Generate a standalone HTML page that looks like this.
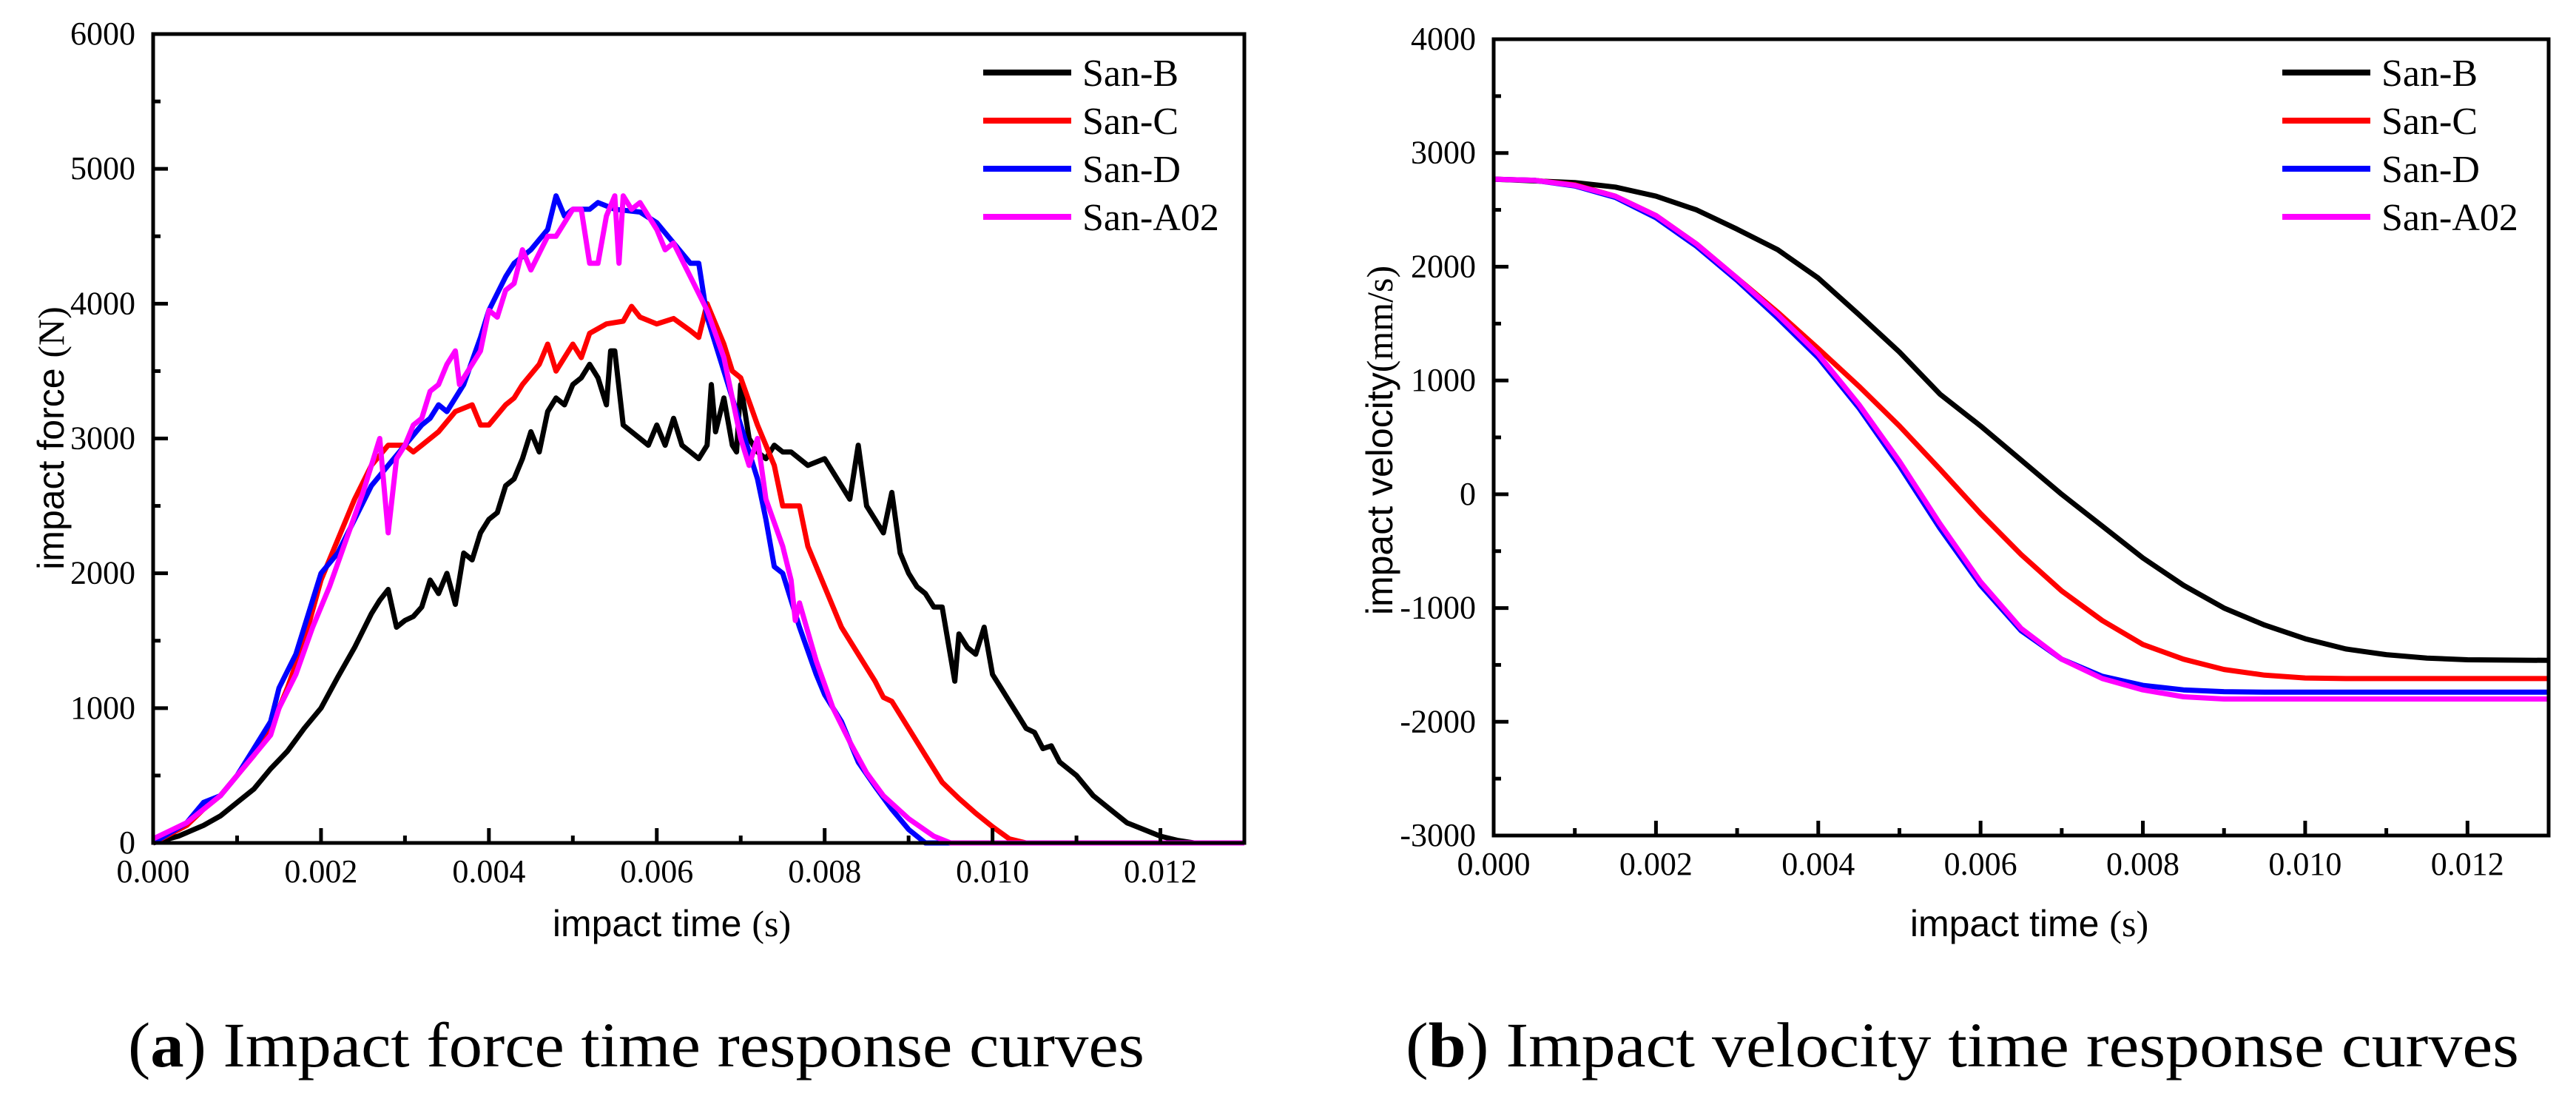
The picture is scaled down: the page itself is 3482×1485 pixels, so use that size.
<!DOCTYPE html>
<html><head><meta charset="utf-8"><style>
html,body{margin:0;padding:0;background:#fff;}
svg{display:block;}
.tick{font-family:"Liberation Serif",serif;font-size:44px;fill:#000;}
.ttl{font-family:"Liberation Sans",sans-serif;font-size:50px;fill:#000;}
.ser{font-family:"Liberation Serif",serif;}
.leg{font-family:"Liberation Serif",serif;font-size:52px;fill:#000;}
.cap{font-family:"Liberation Serif",serif;font-size:86px;fill:#000;}
</style></head><body>
<svg id="fig" width="3482" height="1485" viewBox="0 0 3482 1485" xmlns="http://www.w3.org/2000/svg">
<g id="chartA"></g>
<g id="chartB"></g>
<text class="ttl" x="908" y="1265" text-anchor="middle">impact time <tspan class="ser">(s)</tspan></text>
<text class="ttl" transform="translate(86,592) rotate(-90)" text-anchor="middle">impact force <tspan class="ser">(N)</tspan></text>
<text class="ttl" x="2743" y="1265" text-anchor="middle">impact time <tspan class="ser">(s)</tspan></text>
<text class="ttl" transform="translate(1882,595) rotate(-90)" text-anchor="middle">impact velocity<tspan class="ser">(mm/s)</tspan></text>
<text class="cap" x="173" y="1441" textLength="1374" lengthAdjust="spacingAndGlyphs">(<tspan font-weight="bold">a</tspan>) Impact force time response curves</text>
<text class="cap" x="1900" y="1441" textLength="1505" lengthAdjust="spacingAndGlyphs">(<tspan font-weight="bold">b</tspan>) Impact velocity time response curves</text>
</svg>
<script>
// ---- Chart A data: impact force (N) vs time (s) ----
const seriesNames = ["San-B","San-C","San-D","San-A02"];
const seriesColors = ["#000000","#ff0000","#0000ff","#ff00ff"];
const forceTimeB = [0,0.0003,0.0006,0.0008,0.001,0.0012,0.0014,0.0016,0.0018,0.002,0.0022,0.0024,0.0026,0.0027,0.0028,0.0029,0.003,0.0031,0.0032,0.0033,0.0034,0.0035,0.0036,0.0037,0.0038,0.0039,0.004,0.0041,0.0042,0.0043,0.0044,0.0045,0.0046,0.0047,0.0048,0.0049,0.005,0.0051,0.0052,0.0053,0.0054,0.00545,0.0055,0.0056,0.0058,0.0059,0.006,0.0061,0.0062,0.0063,0.0064,0.0065,0.0066,0.00665,0.0067,0.0068,0.0069,0.00695,0.007,0.0071,0.0072,0.0073,0.0074,0.0075,0.0076,0.0078,0.008,0.0081,0.0082,0.0083,0.0084,0.0085,0.0086,0.0087,0.0088,0.0089,0.009,0.0091,0.0092,0.0093,0.0094,0.00955,0.0096,0.0097,0.0098,0.0099,0.01,0.0101,0.0102,0.0103,0.0104,0.0105,0.0106,0.0107,0.0108,0.011,0.0112,0.0114,0.0116,0.0118,0.012,0.0122,0.0124,0.013];
const forceB = [0,50,130,200,300,400,550,680,850,1000,1230,1450,1700,1800,1880,1600,1650,1680,1750,1950,1850,2000,1770,2150,2100,2300,2400,2450,2650,2700,2850,3050,2900,3200,3300,3250,3400,3450,3550,3450,3250,3650,3650,3100,3000,2950,3100,2950,3150,2950,2900,2850,2950,3400,3050,3300,2950,2900,3400,3000,2900,2850,2950,2900,2900,2800,2850,2750,2650,2550,2950,2500,2400,2300,2600,2150,2000,1900,1850,1750,1750,1200,1550,1450,1400,1600,1250,1150,1050,950,850,820,700,720,600,500,350,250,150,100,50,20,0,0];
const forceTimeC = [0,0.0004,0.0006,0.0008,0.001,0.0012,0.0014,0.0016,0.0018,0.002,0.0022,0.0024,0.0026,0.0028,0.003,0.0031,0.0032,0.0034,0.0036,0.0038,0.0039,0.004,0.0042,0.0043,0.0044,0.0046,0.0047,0.0048,0.005,0.0051,0.0052,0.0054,0.0056,0.0057,0.0058,0.006,0.0062,0.0064,0.0065,0.0066,0.0068,0.0069,0.007,0.0072,0.0074,0.0075,0.0077,0.0078,0.008,0.0082,0.0084,0.0086,0.0087,0.0088,0.009,0.0092,0.0094,0.0096,0.0098,0.01,0.0102,0.0104,0.013];
const forceC = [0,130,250,350,500,650,850,1150,1500,1950,2250,2550,2800,2950,2950,2900,2950,3050,3200,3250,3100,3100,3250,3300,3400,3550,3700,3500,3700,3600,3780,3850,3870,3980,3900,3850,3890,3800,3750,4000,3700,3500,3450,3100,2800,2500,2500,2200,1900,1600,1400,1200,1080,1050,850,650,450,330,220,120,30,0,0];
const forceTimeD = [0,0.0004,0.0006,0.0008,0.001,0.0012,0.0014,0.0015,0.0017,0.0019,0.002,0.0022,0.0024,0.0026,0.0028,0.003,0.0032,0.0033,0.0034,0.0035,0.0037,0.0039,0.004,0.0042,0.0043,0.0045,0.0047,0.0048,0.0049,0.005,0.0052,0.0053,0.0055,0.0058,0.006,0.0062,0.0064,0.0065,0.0066,0.0068,0.007,0.0072,0.0073,0.0074,0.0075,0.0077,0.0079,0.008,0.0082,0.0084,0.0086,0.0088,0.009,0.0092,0.013];
const forceD = [0,150,300,350,500,700,900,1150,1400,1800,2000,2150,2400,2650,2800,2950,3100,3150,3250,3200,3400,3750,3950,4200,4300,4400,4550,4800,4650,4700,4700,4750,4700,4680,4600,4450,4300,4300,3900,3500,3100,2700,2400,2050,2000,1600,1250,1100,900,600,420,250,100,0,0];
const forceTimeA02 = [0,0.0004,0.0006,0.0008,0.001,0.0012,0.0014,0.0015,0.0017,0.0019,0.0021,0.0023,0.0025,0.0027,0.0028,0.0029,0.003,0.0031,0.0032,0.0033,0.0034,0.0035,0.0036,0.00365,0.0037,0.0039,0.004,0.0041,0.0042,0.0043,0.0044,0.0045,0.0047,0.0048,0.0049,0.005,0.0051,0.0052,0.0053,0.0054,0.0055,0.00555,0.0056,0.0057,0.0058,0.006,0.0061,0.0062,0.0064,0.0066,0.0068,0.007,0.0071,0.0072,0.0073,0.0075,0.0076,0.00765,0.0077,0.0079,0.0081,0.0083,0.0085,0.0087,0.009,0.0093,0.0095,0.013];
const forceA02 = [30,150,250,350,500,650,800,1000,1250,1600,1900,2250,2600,3000,2300,2850,2950,3100,3150,3350,3400,3550,3650,3400,3450,3650,3950,3900,4100,4150,4400,4250,4500,4500,4600,4700,4700,4300,4300,4650,4800,4300,4800,4700,4750,4550,4400,4450,4200,3950,3600,3000,2800,3000,2550,2200,1950,1650,1780,1350,1000,750,520,350,180,50,0,0];
const forceXTicks = ["0.000","0.002","0.004","0.006","0.008","0.010","0.012"];
const forceYTicks = ["0","1000","2000","3000","4000","5000","6000"];

// ---- Chart B data: impact velocity (mm/s) vs time (s) ----
const velTimeB = [0,0.001,0.0015,0.002,0.0025,0.003,0.0035,0.004,0.0045,0.005,0.0055,0.006,0.0065,0.007,0.0075,0.008,0.0085,0.009,0.0095,0.01,0.0105,0.011,0.0115,0.012,0.013];
const velB = [2770,2740,2700,2620,2500,2330,2150,1900,1580,1250,880,600,300,0,-280,-560,-800,-1000,-1150,-1270,-1360,-1410,-1440,-1455,-1460];
const velTimeC = [0,0.0005,0.001,0.0015,0.002,0.0025,0.003,0.0035,0.004,0.0045,0.005,0.0055,0.006,0.0065,0.007,0.0075,0.008,0.0085,0.009,0.0095,0.01,0.0105,0.013];
const velC = [2770,2760,2720,2620,2450,2200,1900,1600,1280,950,600,220,-170,-530,-850,-1110,-1320,-1450,-1540,-1590,-1615,-1620,-1620];
const velTimeD = [0,0.0005,0.001,0.0015,0.002,0.0025,0.003,0.0035,0.004,0.0045,0.005,0.0055,0.006,0.0065,0.007,0.0075,0.008,0.0085,0.009,0.0095,0.013];
const velD = [2770,2760,2710,2610,2430,2180,1880,1550,1200,760,250,-300,-800,-1200,-1450,-1600,-1680,-1720,-1735,-1740,-1740];
const velTimeA02 = [0,0.0005,0.001,0.0015,0.002,0.0025,0.003,0.0035,0.004,0.0045,0.005,0.0055,0.006,0.0065,0.007,0.0075,0.008,0.0085,0.009,0.013];
const velA02 = [2770,2760,2715,2620,2450,2200,1900,1580,1230,790,290,-260,-770,-1180,-1450,-1620,-1720,-1780,-1800,-1800];
const velXTicks = ["0.000","0.002","0.004","0.006","0.008","0.010","0.012"];
const velYTicks = ["-3000","-2000","-1000","0","1000","2000","3000","4000"];

const NS = "http://www.w3.org/2000/svg";
function mk(tag, attrs, parent){
  const e = document.createElementNS(NS, tag);
  for (const k in attrs) e.setAttribute(k, attrs[k]);
  parent.appendChild(e);
  return e;
}
function drawChart(g, box, xmax, ymin, ymax, xTicks, yTicks, times, values, legendX, prefix){
  const X = t => box.l + (t / xmax) * (box.r - box.l);
  const Y = v => box.b - (v - ymin) / (ymax - ymin) * (box.b - box.t);
  for (let s = 0; s < values.length; s++){
    const ts = times[s], vs = values[s];
    let d = "";
    for (let i = 0; i < vs.length; i++) d += (i ? "L" : "M") + X(ts[i]).toFixed(1) + "," + Y(vs[i]).toFixed(1);
    const p = mk("path", {d: d, fill: "none", stroke: seriesColors[s], "stroke-width": 7, "stroke-linejoin": "round"}, g);
    
    
  }
  const fr = mk("rect", {x: box.l, y: box.t, width: box.r - box.l, height: box.b - box.t, fill: "none", stroke: "#000", "stroke-width": 5}, g);
  
  
  for (let i = 0; i < xTicks.length; i++){
    const v = parseFloat(xTicks[i]);
    const x = X(v);
    const tk = mk("line", {x1: x, x2: x, y1: box.b, y2: box.b - 20, stroke: "#000", "stroke-width": 5}, g);
    
    
    const mx = X(v + 0.001);
    if (mx < box.r - 3){
      const mt = mk("line", {x1: mx, x2: mx, y1: box.b, y2: box.b - 10, stroke: "#000", "stroke-width": 5}, g);
      
      
    }
    const lb = mk("text", {x: x, y: box.b + 53, "text-anchor": "middle", class: "tick"}, g);
    lb.textContent = xTicks[i];
    
    
  }
  const step = parseFloat(yTicks[1]) - parseFloat(yTicks[0]);
  for (let i = 0; i < yTicks.length; i++){
    const v = parseFloat(yTicks[i]);
    const y = Y(v);
    const tk = mk("line", {x1: box.l, x2: box.l + 20, y1: y, y2: y, stroke: "#000", "stroke-width": 5}, g);
    
    
    if (i < yTicks.length - 1){
      const my = Y(v + step / 2);
      const mt = mk("line", {x1: box.l, x2: box.l + 10, y1: my, y2: my, stroke: "#000", "stroke-width": 5}, g);
      
      
    }
    const lb = mk("text", {x: box.l - 24, y: y + 14, "text-anchor": "end", class: "tick"}, g);
    lb.textContent = yTicks[i];
    
    
  }
  const rows = [98, 163, 228, 293];
  for (let s = 0; s < seriesNames.length; s++){
    const ll = mk("line", {x1: legendX, x2: legendX + 119, y1: rows[s], y2: rows[s], stroke: seriesColors[s], "stroke-width": 8}, g);
    
    
    const lt = mk("text", {x: legendX + 134, y: rows[s] + 18, class: "leg"}, g);
    lt.textContent = seriesNames[s];
    
    
  }
}
drawChart(document.getElementById("chartA"), {l: 207, r: 1682, t: 46, b: 1139}, 0.013, 0, 6000,
  forceXTicks, forceYTicks,
  [forceTimeB, forceTimeC, forceTimeD, forceTimeA02], [forceB, forceC, forceD, forceA02], 1329, "force");
drawChart(document.getElementById("chartB"), {l: 2019, r: 3445, t: 53, b: 1129}, 0.013, -3000, 4000,
  velXTicks, velYTicks,
  [velTimeB, velTimeC, velTimeD, velTimeA02], [velB, velC, velD, velA02], 3085, "velocity");
</script>
</body></html>
